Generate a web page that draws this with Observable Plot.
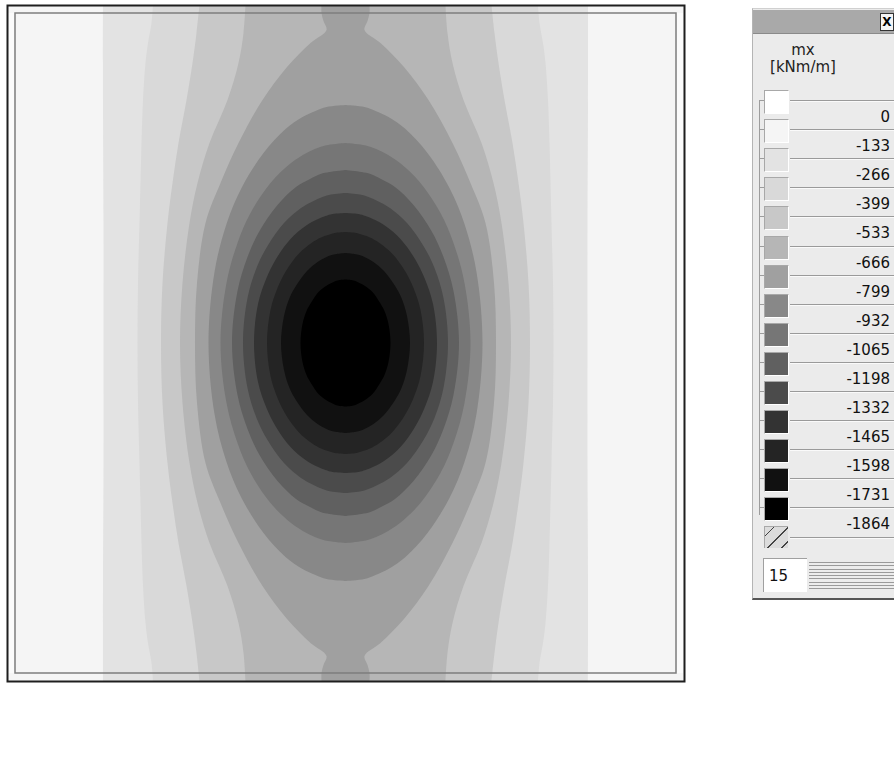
<!DOCTYPE html>
<html>
<head>
<meta charset="utf-8">
<script src="https://cdn.jsdelivr.net/npm/d3@7"></script>
<script src="https://cdn.jsdelivr.net/npm/@observablehq/plot@0.6"></script>
<style>
  body { margin: 0; background: #ffffff; font-family: "DejaVu Sans", Verdana, sans-serif; }
  #wrap { position: relative; width: 894px; height: 783px; overflow: hidden; background: #fff; }
  #chart { position: absolute; left: 0; top: 0; }
  #legend { position: absolute; left: 752px; top: 8px; width: 160px; height: 589px; background: #ebebeb;
            border-left: 1px solid #b4b4b4; border-top: 1px solid #d0d0d0; border-bottom: 2px solid #555; }
  .abs { position: absolute; }
</style>
</head>
<body>
<div id="wrap">
  <div id="chart"></div>
  <div id="legend"></div>
</div>
<script>
// ---------- legend data ----------
const quantity = "mx";
const unit = "[kNm/m]";
const levels = ["0", "-133", "-266", "-399", "-533", "-666", "-799", "-932", "-1065", "-1198", "-1332", "-1465", "-1598", "-1731", "-1864"];
const legendColors = ["#ffffff", "#f5f5f5", "#e3e3e3", "#d9d9d9", "#c8c8c8", "#b6b6b6", "#a0a0a0", "#888888",
                      "#767676", "#606060", "#4b4b4b", "#333333", "#242424", "#111111", "#000000"];
const levelCount = "15";
// colour of each band in the plate, from the outside in
const fieldColors = legendColors.slice(1);

// ---------- contour boundaries (upper half, [distance from centre, half-width], plate units) ----------
const edge01 = [[0, 242], [120, 242], [240, 242.5], [338, 242.5]];
const edge02 = [[0, 208], [60, 207.5], [120, 206], [160, 205], [200, 204], [243, 202.5], [280, 200], [300, 197.5], [320, 194], [338, 192.5]];
const edge03 = [[0, 184.5], [60, 183], [120, 178], [160, 173], [200, 167], [243, 159], [280, 153], [310, 149], [338, 146]];
const edge04 = [[0, 165.5], [60, 163], [120, 156], [160, 148], [200, 136], [243, 118], [280, 107], [310, 102], [338, 100]];
const edge05 = [[0, 150.5], [60, 148.5], [120, 140], [160, 125], [200, 107], [243, 83], [276, 58.5], [300, 35], [313, 19], [322, 22], [330, 24], [338, 24]];
const edge06 = [[0, 137], [71, 131], [119, 119], [155, 104], [190, 82], [214, 60], [226, 43], [232, 30], [236, 19], [238, 0]];
const edge07 = [[0, 125], [60, 119], [100, 108], [130, 95], [160, 75], [180, 54.5], [190, 39], [195, 28], [198, 17.5], [200, 0]];
const edge08 = [[0, 113.5], [52, 108], [86, 98], [112, 86], [138, 68], [156, 49.5], [164, 35.5], [169, 25], [171, 16], [173, 0]];
const edge09 = [[0, 102.5], [45, 98], [75, 89], [97, 78], [120, 61.5], [135, 44.5], [142, 32], [146, 23], [148.5, 14.5], [150, 0]];
const edge10 = [[0, 91.5], [39, 87.5], [65, 79], [84, 69.5], [104, 55], [117, 40], [123.5, 28.5], [127, 20], [129, 13], [130, 0]];
const edge11 = [[0, 78.5], [33, 75], [55, 68], [72, 59.5], [89, 47], [100, 34], [105.5, 24.5], [108, 17.5], [110, 11], [111, 0]];
const edge12 = [[0, 64.5], [27, 61.5], [45, 56], [58, 49], [72, 38.5], [81, 28], [85.5, 20], [88, 14], [89, 9], [90, 0]];
const edge13 = [[0, 45], [19, 43], [32, 39], [41, 34], [51, 27], [57, 19.5], [60, 14], [62, 10], [63, 6], [63.5, 0]];
const edges = [edge01, edge02, edge03, edge04, edge05, edge06, edge07, edge08, edge09, edge10, edge11, edge12, edge13];

// plate extent and inner support line (plate units, centred)
const plateX = [-338.5, 338.5];
const plateY = [-338, 338];
const innerLine = [{x1: -330.5, x2: 330.5, y1: -330, y2: 330}];
const sideStrips = [{x1: -337.5, x2: -331.5, y1: -330, y2: 330}, {x1: 331.5, x2: 337.5, y1: -330, y2: 330}];

// mirror the upper half about the horizontal centre line
function mirror(pairs) {
  const lower = pairs.filter(([d]) => d > 0).slice().reverse().map(([d, h]) => ({y: -d, xl: -h, xr: h}));
  const upper = pairs.map(([d, h]) => ({y: d, xl: -h, xr: h}));
  return lower.concat(upper);
}

const marks = [Plot.frame({fill: fieldColors[0]})];
edges.forEach((pairs, i) => {
  marks.push(Plot.areaX(mirror(pairs), {y: "y", x1: "xl", x2: "xr", fill: fieldColors[i + 1], curve: "catmull-rom"}));
});
marks.push(Plot.rect(sideStrips, {x1: "x1", x2: "x2", y1: "y1", y2: "y2", fill: "#fbfbfb"}));
marks.push(Plot.rect(innerLine, {x1: "x1", x2: "x2", y1: "y1", y2: "y2", fill: "none", stroke: "#7d7d7d", strokeWidth: 1.5}));
marks.push(Plot.frame({stroke: "#1e1e1e", strokeWidth: 2}));

const chart = Plot.plot({
  width: 690,
  height: 690,
  marginLeft: 7,
  marginRight: 6,
  marginTop: 5,
  marginBottom: 9,
  x: {domain: plateX, axis: null},
  y: {domain: plateY, axis: null},
  style: {background: "white", overflow: "visible"},
  marks
});
document.getElementById("chart").appendChild(chart);

// ---------- legend panel ----------
const lg = document.getElementById("legend");
function el(css, html) {
  const d = document.createElement("div");
  d.className = "abs";
  d.style.cssText = css;
  if (html !== undefined) d.textContent = html;
  lg.appendChild(d);
  return d;
}
// title bar + close button
el("left:0;top:1px;width:160px;height:23px;background:#a9a9a9;border-bottom:1px solid #8a8a8a;");
el("left:127px;top:4px;width:12px;height:16px;background:#f4f4f4;border:1px solid #333;font:bold 12px 'DejaVu Sans';line-height:16px;text-align:center;color:#000;", "X");
// quantity and unit
el("left:0;top:33px;width:100px;text-align:center;font:15px 'DejaVu Sans';color:#222;line-height:17px;", quantity);
el("left:0;top:50px;width:100px;text-align:center;font:15px 'DejaVu Sans';color:#222;line-height:17px;", unit);

const rowTop = 91, rowH = 29.1;
// tree line
el(`left:6px;top:${rowTop}px;width:1px;height:${rowH * 14 + 8}px;background:#9c9c9c;`);
levels.forEach((lab, i) => {
  const y = rowTop + rowH * i;
  el(`left:37px;top:${y}px;width:130px;height:1px;background:#9a9a9a;border-bottom:1px solid #fafafa;`);
  el(`left:6px;top:${y}px;width:5px;height:1px;background:#9c9c9c;`);
  el(`left:11px;top:${y - 10}px;width:23px;height:22px;background:${legendColors[i]};border-top:1px solid #a8a8a8;border-left:1px solid #a8a8a8;border-right:1px solid #fff;border-bottom:1px solid #fff;`);
  el(`left:40px;top:${y + 8}px;width:97px;height:24px;line-height:24px;text-align:right;font:15px 'DejaVu Sans';color:#111;`, lab);
});
// final separator line and hatched "outside range" swatch
const yEnd = rowTop + rowH * 15;
el(`left:37px;top:${yEnd}px;width:130px;height:1px;background:#9a9a9a;border-bottom:1px solid #fafafa;`);
el(`left:11px;top:${yEnd - 11}px;width:23px;height:21px;border-top:1px solid #a8a8a8;border-left:1px solid #a8a8a8;background:repeating-linear-gradient(135deg,#dcdcdc 0 6px,#444 6px 7px,#dcdcdc 7px 10px);`);
// level count box and striped area
el("left:10px;top:549px;width:44px;height:34px;background:#fff;border-top:1px solid #a0a0a0;border-left:1px solid #a0a0a0;font:15px 'DejaVu Sans';line-height:34px;color:#111;padding-left:5px;box-sizing:border-box;", levelCount);
el("left:56px;top:553px;width:120px;height:28px;background:repeating-linear-gradient(180deg,#9a9a9a 0 1px,#ececec 1px 3.3px);");
</script>
</body>
</html>
